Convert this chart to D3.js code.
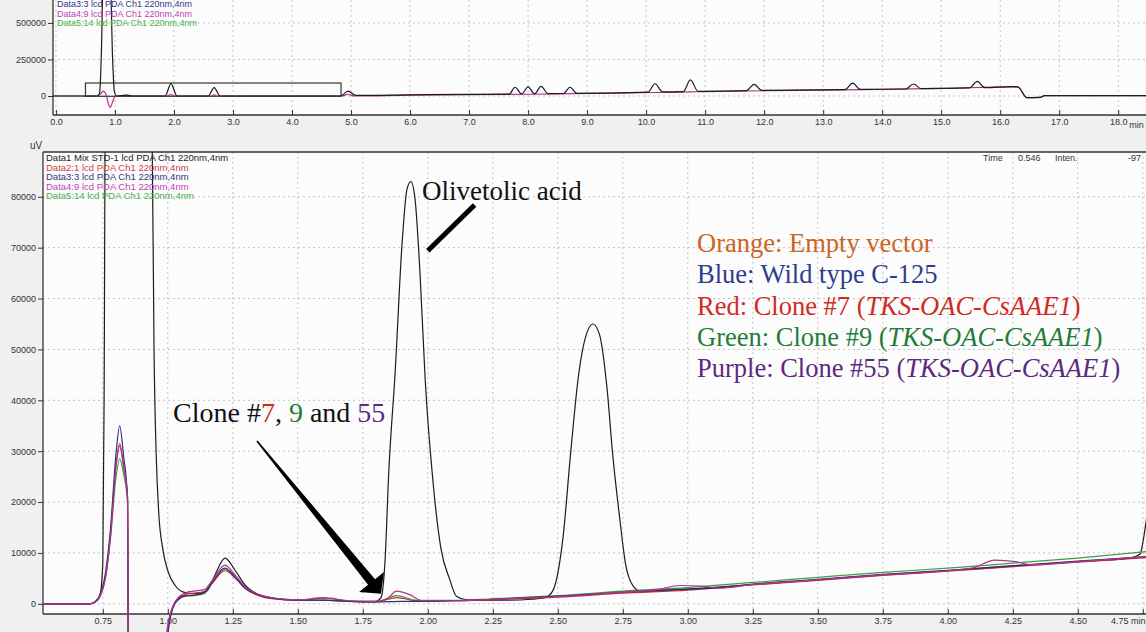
<!DOCTYPE html>
<html>
<head>
<meta charset="utf-8">
<script src="https://cdn.jsdelivr.net/npm/d3@7"></script>
<style>
body { margin: 0; background: #f0f0f0; }
svg { display: block; }
</style>
</head>
<body>
<svg width="1146" height="632"></svg>
<script>
// ---- data: [time (min), intensity (uV)] ----

// overview panel, 0-18 min
var topStd = [[-0.05,0],[0.70,0],[0.74,20000],[0.77,300000],[0.80,800000],[0.92,800000],[0.96,250000],[0.99,30000],[1.03,0],[1.20,6000],[1.30,0],[1.85,0],[1.95,85000],[2.05,0],[2.58,0],[2.68,58000],[2.78,0],[4.82,0],[4.95,33000],[5.08,4000],[6.00,8000],[7.00,11000],[7.68,13000],[7.78,60000],[7.89,14000],[8.00,62000],[8.11,15000],[8.22,66000],[8.34,16000],[8.60,17000],[8.71,60000],[8.83,18000],[10.03,26000],[10.15,84000],[10.28,28000],[10.63,30000],[10.75,110000],[10.88,32000],[11.70,37000],[11.83,80000],[11.96,39000],[13.37,44000],[13.50,88000],[13.63,45000],[14.40,48000],[14.53,82000],[14.66,50000],[15.48,55000],[15.61,100000],[15.74,57000],[16.20,64000],[16.30,62000],[16.45,-11000],[16.68,-9000],[16.75,2000],[18.47,2000]];
var topSample = [[-0.05,0],[0.70,0],[0.76,15000],[0.80,34000],[0.85,10000],[0.88,-40000],[0.92,-78000],[0.96,-40000],[1.00,-5000],[1.05,0],[1.20,5000],[1.30,0],[1.88,0],[1.95,10000],[2.02,0],[2.62,0],[2.68,8000],[2.74,0],[4.85,0],[4.95,12000],[5.05,0],[6.00,6000],[7.00,9000],[8.00,12000],[9.00,18000],[10.15,24000],[10.75,28000],[11.00,30000],[12.00,36000],[13.00,40000],[14.00,46000],[15.00,52000],[16.20,62000],[16.30,60000],[16.45,-11000],[16.68,-9000],[16.75,2000],[18.47,2000]];

// zoomed panel, 0.5-4.8 min
var data1 = [[0.52,0],[0.70,0],[0.72,300],[0.74,2000],[0.75,8000],[0.755,40000],[0.76,100000],[0.93,100000],[0.94,90000],[0.947,50000],[0.955,30000],[0.965,18000],[0.98,11000],[1.00,6500],[1.03,3500],[1.06,2300],[1.10,2000],[1.15,2500],[1.18,5500],[1.22,9000],[1.26,6500],[1.30,3500],[1.35,1800],[1.40,1200],[1.50,800],[1.60,700],[1.70,500],[1.80,500],[1.82,1200],[1.835,8000],[1.85,26000],[1.875,46000],[1.90,70000],[1.92,81500],[1.935,83000],[1.95,80000],[1.97,65000],[1.99,44000],[2.02,24000],[2.05,11000],[2.085,4700],[2.11,1500],[2.15,800],[2.30,700],[2.40,900],[2.45,1200],[2.48,2500],[2.50,6000],[2.52,13000],[2.55,30000],[2.58,45000],[2.61,53000],[2.635,55000],[2.66,53000],[2.69,42000],[2.71,30000],[2.74,16000],[2.76,8000],[2.79,3500],[2.82,2500],[2.90,2600],[3.00,2900],[3.25,3800],[3.50,4700],[3.75,5700],[4.00,6500],[4.25,7400],[4.50,8300],[4.70,9000],[4.74,9800],[4.75,12000],[4.765,17000]];
var data2 = [[0.52,0],[0.70,0],[0.72,400],[0.74,1800],[0.76,5500],[0.78,14000],[0.80,27000],[0.815,31500],[0.83,27000],[0.845,21000],[0.85,-30000],[0.99,-30000],[1.00,-5000],[1.02,-500],[1.04,1000],[1.07,1900],[1.10,2100],[1.14,2400],[1.17,4000],[1.22,6500],[1.26,5000],[1.30,2900],[1.35,1600],[1.40,1000],[1.50,700],[1.60,1100],[1.70,500],[1.80,400],[1.88,1200],[1.96,600],[2.10,600],[2.25,800],[2.50,1300],[2.75,2100],[3.00,2700],[3.25,3700],[3.50,4600],[3.75,5600],[4.00,6400],[4.25,7300],[4.50,8200],[4.77,9100]];
var data3 = [[0.52,0],[0.70,0],[0.72,400],[0.74,1800],[0.76,6000],[0.78,15000],[0.80,29000],[0.815,35000],[0.83,29000],[0.845,21000],[0.85,-30000],[0.99,-30000],[1.00,-6000],[1.02,-800],[1.04,800],[1.07,1600],[1.10,1700],[1.14,2200],[1.17,4200],[1.22,7000],[1.26,5200],[1.30,3000],[1.35,1700],[1.40,1100],[1.50,700],[1.60,700],[1.70,500],[1.80,400],[1.90,500],[2.00,500],[2.10,600],[2.25,900],[2.50,1500],[2.75,2300],[2.90,2700],[3.00,2900],[3.10,3100],[3.25,3900],[3.50,4800],[3.75,5800],[4.00,6600],[4.25,7500],[4.50,8400],[4.77,9300]];
var data4 = [[0.52,0],[0.70,0],[0.72,300],[0.74,1500],[0.76,5000],[0.78,13500],[0.80,26500],[0.815,31000],[0.83,27000],[0.845,21000],[0.85,-30000],[0.985,-30000],[0.995,-6000],[1.02,-400],[1.04,1200],[1.07,2200],[1.10,2500],[1.14,2800],[1.17,4500],[1.22,7600],[1.26,5600],[1.30,3200],[1.35,1800],[1.40,1200],[1.50,800],[1.60,1200],[1.70,600],[1.80,500],[1.84,900],[1.88,2500],[1.93,1800],[1.98,600],[2.10,600],[2.25,900],[2.50,1400],[2.75,2300],[2.88,2800],[2.97,3600],[3.05,3500],[3.12,3100],[3.25,3800],[3.50,4700],[3.75,5700],[4.00,6500],[4.10,7100],[4.18,8600],[4.26,8300],[4.32,7700],[4.50,8300],[4.77,9300]];
var data5 = [[0.52,0],[0.70,0],[0.72,300],[0.74,1500],[0.76,5000],[0.78,13000],[0.80,24500],[0.815,28500],[0.83,25500],[0.845,20000],[0.85,-30000],[0.99,-30000],[1.00,-6000],[1.02,-700],[1.04,900],[1.07,1500],[1.10,1600],[1.14,2000],[1.17,4000],[1.22,6800],[1.26,5200],[1.30,3000],[1.35,1700],[1.40,1100],[1.50,700],[1.60,800],[1.70,500],[1.80,400],[1.88,1600],[1.96,700],[2.10,700],[2.25,1000],[2.50,1600],[2.75,2500],[3.00,3200],[3.25,4200],[3.50,5200],[3.75,6200],[4.00,7000],[4.25,8000],[4.50,9000],[4.77,10300]];

var dataLabels = ["Data1 Mix STD-1 lcd PDA Ch1 220nm,4nm", "Data2:1 lcd PDA Ch1 220nm,4nm", "Data3:3 lcd PDA Ch1 220nm,4nm", "Data4:9 lcd PDA Ch1 220nm,4nm", "Data5:14 lcd PDA Ch1 220nm,4nm"];
var topTicksX = d3.range(0, 19, 1);
var topTicksY = [0, 250000, 500000];
var botTicksX = d3.range(0.75, 4.76, 0.25);
var botTicksY = d3.range(0, 80001, 10000);
var legendLines = [
    { head: "Orange: Empty vector", gene: "", color: "#cc6424" },
    { head: "Blue: Wild type C-125", gene: "", color: "#2d3e8c" },
    { head: "Red: Clone #7 (", gene: "TKS-OAC-CsAAE1", color: "#d12a24" },
    { head: "Green: Clone #9 (", gene: "TKS-OAC-CsAAE1", color: "#1f7d3a" },
    { head: "Purple: Clone #55 (", gene: "TKS-OAC-CsAAE1", color: "#5c2a7c" }
];

var svg = d3.select("svg"),
    width = +svg.attr("width"),
    height = +svg.attr("height");

var traceColors = ["#1c1c1c", "#c42a2e", "#2b2f7c", "#b0338c", "#3e9e44"];
var labelColors = ["#222", "#d04444", "#34348a", "#c043b4", "#4ab04a"];
var sans = "'Liberation Sans', Arial, sans-serif";
var serif = "'Liberation Serif', 'Times New Roman', serif";

// ---- scales ----
var xTop = d3.scaleLinear().domain([-0.05, 18.47]).range([53, 1146]);
var yTop = d3.scaleLinear().domain([-130000, 657000]).range([115, 0]);
var xBot = d3.scaleLinear().domain([0.52, 4.77]).range([43, 1148]);
var yBot = d3.scaleLinear().domain([-2000, 88800]).range([614, 152]);

// plot backgrounds
svg.append("rect").attr("x", 53).attr("y", 0).attr("width", width - 53).attr("height", 115).attr("fill", "#fcfcfc");
svg.append("rect").attr("x", 43).attr("y", 152).attr("width", width - 43).attr("height", 462).attr("fill", "#fcfcfc");

var defs = svg.append("defs");
defs.append("clipPath").attr("id", "clipTop").append("rect")
    .attr("x", 53).attr("y", 0).attr("width", width - 53).attr("height", 115);
defs.append("clipPath").attr("id", "clipBot").append("rect")
    .attr("x", 43).attr("y", 152).attr("width", width - 43).attr("height", height - 152);

function grid(x, y, xs, ys) {
    var g = svg.append("g")
        .attr("stroke", "#c4c4c4")
        .attr("stroke-width", 1)
        .attr("stroke-dasharray", "2,3");
    g.selectAll(".gx").data(xs).enter().append("line")
        .attr("x1", d => x(d)).attr("x2", d => x(d))
        .attr("y1", y.range()[1]).attr("y2", y.range()[0]);
    g.selectAll(".gy").data(ys).enter().append("line")
        .attr("x1", x.range()[0]).attr("x2", width)
        .attr("y1", d => y(d)).attr("y2", d => y(d));
}
grid(xTop, yTop, topTicksX, topTicksY);
grid(xBot, yBot, botTicksX, botTicksY);

function axes(x, y, xMajor, xMinor, yMajor, yMinor, xFmt) {
    var bottom = y.range()[0], left = x.range()[0];
    var gx = svg.append("g").attr("transform", "translate(0," + bottom + ")");
    gx.call(d3.axisBottom(x).tickValues(xMinor).tickFormat("").tickSizeInner(-3).tickSizeOuter(0));
    gx.call(d3.axisBottom(x).tickValues(xMajor).tickFormat(xFmt).tickSizeInner(-5).tickSizeOuter(0).tickPadding(4));
    var gy = svg.append("g").attr("transform", "translate(" + left + ",0)");
    gy.call(d3.axisLeft(y).tickValues(yMinor).tickFormat("").tickSizeInner(3).tickSizeOuter(0));
    gy.call(d3.axisLeft(y).tickValues(yMajor).tickFormat(d3.format("d")).tickSizeInner(5).tickSizeOuter(0).tickPadding(2));
    [gx, gy].forEach(function (g) {
        g.selectAll("path").attr("stroke", "#333").attr("stroke-width", 1.3);
        g.selectAll("line").attr("stroke", "#333");
        g.selectAll("text").attr("fill", "#333").style("font", "9px " + sans);
    });
    gx.select("path").attr("d", "M" + left + ",0H" + width);
    gy.select("path").attr("d", "M0," + y.range()[1] + "V" + bottom);
    return gx;
}
axes(xTop, yTop, topTicksX, d3.range(0, 18.5, 0.2), topTicksY, d3.range(-100000, 650001, 50000), d3.format(".1f"));
var botX = axes(xBot, yBot, botTicksX, d3.range(0.55, 4.77, 0.05), botTicksY, d3.range(0, 88001, 2000), d3.format(".2f"));
// last label sits against the right edge together with the unit
botX.selectAll(".tick text").filter(d => d > 4.7)
    .attr("text-anchor", "end").attr("x", width - 1 - xBot(4.75)).text("4.75 min");

svg.append("text").attr("x", xTop(18) + 11).attr("y", 128).text("min")
    .attr("fill", "#333").style("font", "9px " + sans);
svg.append("text").attr("x", 30).attr("y", 149).text("uV")
    .attr("fill", "#333").style("font", "10px " + sans);

// frame line on top of zoomed panel
svg.append("line").attr("x1", 43).attr("x2", width).attr("y1", 152).attr("y2", 152)
    .attr("stroke", "#333").attr("stroke-width", 1.3);

// zoom box in overview
svg.append("rect")
    .attr("x", xTop(0.5)).attr("y", yTop(88800))
    .attr("width", xTop(4.83) - xTop(0.5)).attr("height", yTop(-2000) - yTop(88800))
    .attr("fill", "none").attr("stroke", "#333").attr("stroke-width", 1.2);

// ---- traces ----
function traces(x, y, clip, sets, colors) {
    var line = d3.line().x(d => x(d[0])).y(d => y(d[1])).curve(d3.curveMonotoneX);
    svg.append("g").attr("clip-path", "url(#" + clip + ")")
        .selectAll("path").data(sets).enter().append("path")
        .attr("d", line)
        .attr("fill", "none")
        .attr("stroke", (d, i) => colors[i])
        .attr("stroke-width", 1.2);
}
traces(xTop, yTop, "clipTop", [topSample, topStd], [traceColors[3], traceColors[0]]);
traces(xBot, yBot, "clipBot", [data1, data5, data2, data3, data4],
    [traceColors[0], traceColors[4], traceColors[1], traceColors[2], traceColors[3]]);

// ---- instrument labels ----
svg.selectAll(".topLabel").data(dataLabels.slice(2)).enter().append("text")
    .attr("x", 57).attr("y", (d, i) => 7 + i * 9.5)
    .attr("fill", (d, i) => labelColors[i + 2])
    .style("font", "9px " + sans)
    .text(d => d);
svg.selectAll(".botLabel").data(dataLabels).enter().append("text")
    .attr("x", 46).attr("y", (d, i) => 161 + i * 9.5)
    .attr("fill", (d, i) => labelColors[i])
    .style("font", "9.5px " + sans)
    .text(d => d);

var statusBar = svg.append("g").attr("fill", "#333").style("font", "9px " + sans);
statusBar.append("text").attr("x", 983).attr("y", 161).text("Time");
statusBar.append("text").attr("x", 1018).attr("y", 161).text("0.546");
statusBar.append("text").attr("x", 1055).attr("y", 161).text("Inten.");
statusBar.append("text").attr("x", 1128).attr("y", 161).text("-97");

// ---- annotations ----
svg.append("text").attr("x", 422).attr("y", 200)
    .style("font", "27px " + serif).attr("fill", "#111")
    .text("Olivetolic acid");
svg.append("line")
    .attr("x1", xBot(2.18)).attr("y1", yBot(78400))
    .attr("x2", xBot(2.0)).attr("y2", yBot(69400))
    .attr("stroke", "#000").attr("stroke-width", 5);

var clone = svg.append("text").attr("x", 173).attr("y", 422)
    .style("font", "28px " + serif).attr("fill", "#111");
[["Clone #", "#111"], ["7", "#d12a24"], [", ", "#111"], ["9", "#1f7d3a"], [" and ", "#111"], ["55", "#5c2a7c"]]
    .forEach(function (p) { clone.append("tspan").attr("fill", p[1]).text(p[0]); });

// tapered arrow towards the small clone peak
var a0 = [xBot(1.343), yBot(32000)], a1 = [xBot(1.82), yBot(2000)];
var dx = a1[0] - a0[0], dy = a1[1] - a0[1], len = Math.sqrt(dx * dx + dy * dy);
var ux = dx / len, uy = dy / len, nx = -uy, ny = ux;
var b = [a1[0] - ux * 15, a1[1] - uy * 15];
var pts = [
    [a0[0] + nx * 0.8, a0[1] + ny * 0.8], [b[0] + nx * 4.5, b[1] + ny * 4.5], [b[0] + nx * 16, b[1] + ny * 16],
    a1,
    [b[0] - nx * 16, b[1] - ny * 16], [b[0] - nx * 4.5, b[1] - ny * 4.5], [a0[0] - nx * 0.8, a0[1] - ny * 0.8]
];
svg.append("polygon").attr("points", pts.map(p => p.join(",")).join(" ")).attr("fill", "#000");

var legend = svg.selectAll(".legend").data(legendLines).enter().append("text")
    .attr("x", 697).attr("y", (d, i) => 252 + i * 31.3)
    .attr("fill", d => d.color)
    .style("font", "26.5px " + serif);
legend.append("tspan").text(d => d.head);
legend.filter(d => d.gene).append("tspan").style("font-style", "italic").text(d => d.gene);
legend.filter(d => d.gene).append("tspan").text(")");
</script>
</body>
</html>
